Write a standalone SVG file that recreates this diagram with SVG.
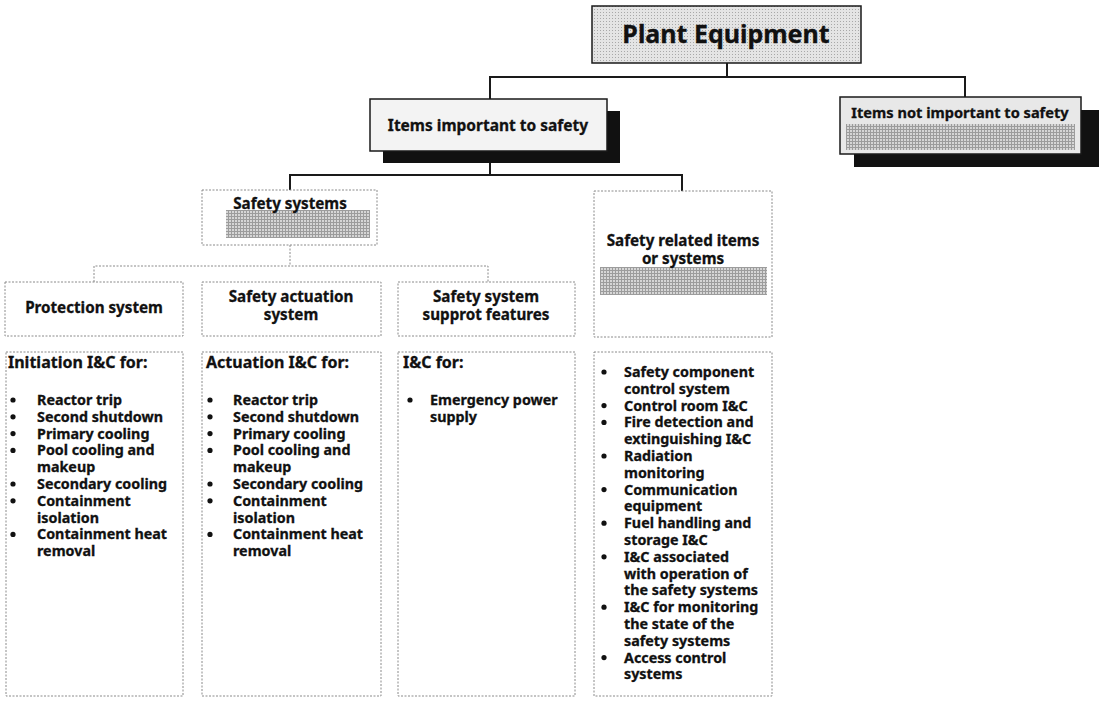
<svg xmlns="http://www.w3.org/2000/svg" width="1118" height="701" viewBox="0 0 1118 701">
<style>
  .t { font-family: "Noto Sans", "Open Sans", sans-serif; font-weight: 700; fill: #111; stroke: #111; stroke-width: 0.3; }
  .solid { fill: none; stroke: #1a1a1a; stroke-width: 2; }
  .dot { fill: none; stroke: #8a8a8a; stroke-width: 1; stroke-dasharray: 2 1.5; }
  .box { fill: #ffffff; stroke: #8a8a8a; stroke-width: 1; stroke-dasharray: 2 1.5; }
  .hdr { stroke: #1a1a1a; stroke-width: 1.5; }
  .shadow { fill: #111; }
  .li { font-size: 14.3px; }
  .l3 { font-size: 15.2px; }
  .bul { fill: #111; }
</style>
<defs>
  <pattern id="grid" width="3" height="3" patternUnits="userSpaceOnUse">
    <rect width="3" height="3" fill="#d6d6d6"/>
    <rect width="3" height="1" fill="#9c9c9c"/>
    <rect width="1" height="3" fill="#9c9c9c"/>
  </pattern>
  <pattern id="light" width="3" height="3" patternUnits="userSpaceOnUse">
    <rect width="3" height="3" fill="#e4e4e4"/>
    <rect width="1" height="1" fill="#a8a8a8"/>
  </pattern>
</defs>
<rect width="1118" height="701" fill="#ffffff"/>

<g id="connectors">
  <polyline class="solid" points="727,63 727,77"/>
  <polyline class="solid" points="490,99 490,77 965,77 965,97"/>
  <polyline class="solid" points="490,162 490,175"/>
  <polyline class="solid" points="290,190 290,175 682,175 682,191"/>
  <polyline class="dot" points="290,245 290,266"/>
  <polyline class="dot" points="94,282 94,266 488,266 488,282"/>
</g>

<g id="plant-equipment">
  <rect x="592" y="6" width="269" height="57" fill="url(#light)" class="hdr"/>
  <text class="t" x="726" y="43" font-size="25" text-anchor="middle">Plant Equipment</text>
</g>

<g id="items-important">
  <rect class="shadow" x="383" y="111" width="237" height="52"/>
  <rect x="370" y="99" width="237" height="52" fill="#f3f3f3" class="hdr"/>
  <text class="t" x="488" y="131" font-size="15.5" text-anchor="middle">Items important to safety</text>
</g>

<g id="items-not-important">
  <rect class="shadow" x="854" y="110" width="245" height="57"/>
  <rect x="840" y="97" width="241" height="57" fill="#e8e8e8" class="hdr"/>
  <rect x="846" y="124" width="229" height="26" fill="url(#grid)"/>
  <text class="t" x="960" y="118" font-size="14.6" text-anchor="middle">Items not important to safety</text>
</g>

<g id="safety-systems">
  <rect class="box" x="202" y="190" width="175" height="55"/>
  <rect x="226" y="210" width="144" height="28" fill="url(#grid)"/>
  <text class="t l3" x="290" y="209" text-anchor="middle">Safety systems</text>
</g>

<g id="safety-related">
  <rect class="box" x="594" y="191" width="178" height="146"/>
  <rect x="600" y="267" width="167" height="28" fill="url(#grid)"/>
  <text class="t l3" x="683" y="246" text-anchor="middle">Safety related items</text>
  <text class="t l3" x="683" y="264" text-anchor="middle">or systems</text>
</g>

<g id="protection-system">
  <rect class="box" x="5" y="282" width="178" height="54"/>
  <text class="t l3" x="94" y="313" text-anchor="middle">Protection system</text>
</g>

<g id="safety-actuation-system">
  <rect class="box" x="202" y="282" width="179" height="54"/>
  <text class="t l3" x="291" y="302" text-anchor="middle">Safety actuation</text>
  <text class="t l3" x="291" y="320" text-anchor="middle">system</text>
</g>

<g id="safety-system-support">
  <rect class="box" x="398" y="282" width="177" height="54"/>
  <text class="t l3" x="486" y="302" text-anchor="middle">Safety system</text>
  <text class="t l3" x="486" y="320" text-anchor="middle">supprot features</text>
</g>

<g id="initiation-ic">
  <rect class="box" x="6" y="352" width="177" height="344"/>
  <text class="t" x="8" y="368" font-size="16">Initiation I&amp;C for:</text>
  <g class="bul">
    <circle cx="13" cy="400" r="2.6"/><circle cx="13" cy="416.8" r="2.6"/><circle cx="13" cy="433.6" r="2.6"/>
    <circle cx="13" cy="450.4" r="2.6"/><circle cx="13" cy="484" r="2.6"/><circle cx="13" cy="500.8" r="2.6"/>
    <circle cx="13" cy="534.4" r="2.6"/>
  </g>
  <text class="t li">
    <tspan x="37" y="405">Reactor trip</tspan>
    <tspan x="37" y="421.8">Second shutdown</tspan>
    <tspan x="37" y="438.6">Primary cooling</tspan>
    <tspan x="37" y="455.4">Pool cooling and</tspan>
    <tspan x="37" y="472.2">makeup</tspan>
    <tspan x="37" y="489">Secondary cooling</tspan>
    <tspan x="37" y="505.8">Containment</tspan>
    <tspan x="37" y="522.6">isolation</tspan>
    <tspan x="37" y="539.4">Containment heat</tspan>
    <tspan x="37" y="556.2">removal</tspan>
  </text>
</g>

<g id="actuation-ic">
  <rect class="box" x="202" y="352" width="179" height="344"/>
  <text class="t" x="206" y="368" font-size="16">Actuation I&amp;C for:</text>
  <g class="bul">
    <circle cx="210" cy="400" r="2.6"/><circle cx="210" cy="416.8" r="2.6"/><circle cx="210" cy="433.6" r="2.6"/>
    <circle cx="210" cy="450.4" r="2.6"/><circle cx="210" cy="484" r="2.6"/><circle cx="210" cy="500.8" r="2.6"/>
    <circle cx="210" cy="534.4" r="2.6"/>
  </g>
  <text class="t li">
    <tspan x="233" y="405">Reactor trip</tspan>
    <tspan x="233" y="421.8">Second shutdown</tspan>
    <tspan x="233" y="438.6">Primary cooling</tspan>
    <tspan x="233" y="455.4">Pool cooling and</tspan>
    <tspan x="233" y="472.2">makeup</tspan>
    <tspan x="233" y="489">Secondary cooling</tspan>
    <tspan x="233" y="505.8">Containment</tspan>
    <tspan x="233" y="522.6">isolation</tspan>
    <tspan x="233" y="539.4">Containment heat</tspan>
    <tspan x="233" y="556.2">removal</tspan>
  </text>
</g>

<g id="support-ic">
  <rect class="box" x="398" y="352" width="177" height="344"/>
  <text class="t" x="403" y="368" font-size="16">I&amp;C for:</text>
  <circle class="bul" cx="410" cy="400" r="2.6"/>
  <text class="t li">
    <tspan x="430" y="405">Emergency power</tspan>
    <tspan x="430" y="421.8">supply</tspan>
  </text>
</g>

<g id="safety-related-ic">
  <rect class="box" x="594" y="352" width="178" height="344"/>
  <g class="bul">
    <circle cx="604" cy="372" r="2.6"/><circle cx="604" cy="405.6" r="2.6"/><circle cx="604" cy="422.4" r="2.6"/>
    <circle cx="604" cy="456" r="2.6"/><circle cx="604" cy="489.6" r="2.6"/><circle cx="604" cy="523.2" r="2.6"/>
    <circle cx="604" cy="556.8" r="2.6"/><circle cx="604" cy="607.2" r="2.6"/><circle cx="604" cy="657.6" r="2.6"/>
  </g>
  <text class="t li">
    <tspan x="624" y="377">Safety component</tspan>
    <tspan x="624" y="393.8">control system</tspan>
    <tspan x="624" y="410.6">Control room I&amp;C</tspan>
    <tspan x="624" y="427.4">Fire detection and</tspan>
    <tspan x="624" y="444.2">extinguishing I&amp;C</tspan>
    <tspan x="624" y="461">Radiation</tspan>
    <tspan x="624" y="477.8">monitoring</tspan>
    <tspan x="624" y="494.6">Communication</tspan>
    <tspan x="624" y="511.4">equipment</tspan>
    <tspan x="624" y="528.2">Fuel handling and</tspan>
    <tspan x="624" y="545">storage I&amp;C</tspan>
    <tspan x="624" y="561.8">I&amp;C associated</tspan>
    <tspan x="624" y="578.6">with operation of</tspan>
    <tspan x="624" y="595.4">the safety systems</tspan>
    <tspan x="624" y="612.2">I&amp;C for monitoring</tspan>
    <tspan x="624" y="629">the state of the</tspan>
    <tspan x="624" y="645.8">safety systems</tspan>
    <tspan x="624" y="662.6">Access control</tspan>
    <tspan x="624" y="679.4">systems</tspan>
  </text>
</g>
</svg>
